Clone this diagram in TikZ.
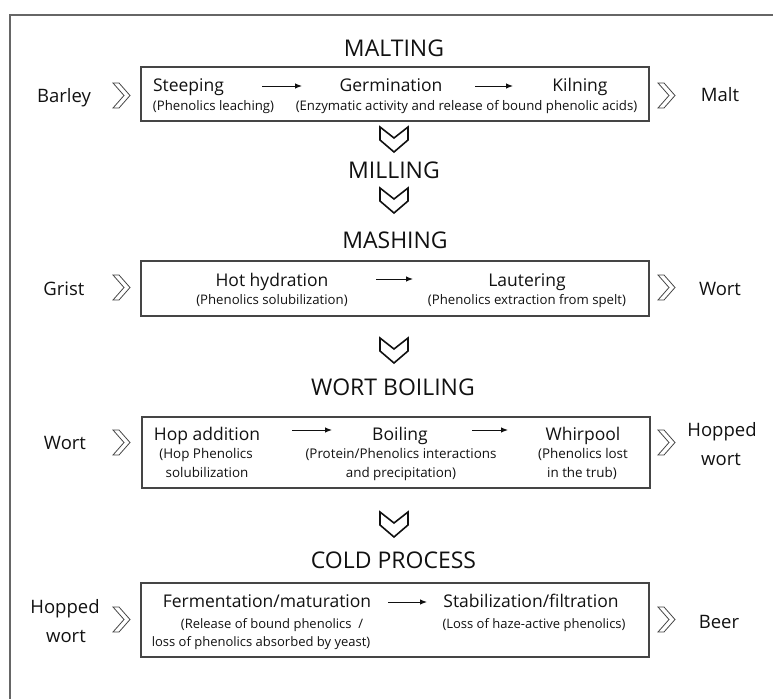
\documentclass[tikz,border=0pt]{standalone}
\usepackage{fontspec}
\setmainfont{Open Sans}
\usetikzlibrary{arrows.meta}
\definecolor{boxgray}{HTML}{454545}
\definecolor{framegray}{HTML}{666666}
\definecolor{ink}{HTML}{111111}
\tikzset{
  every node/.style={text=ink, inner sep=0pt},
  titletext/.style={font=\fontsize{23}{28}\selectfont, anchor=base},
  iotext/.style={font=\fontsize{18.5}{22}\selectfont, anchor=base},
  steptext/.style={font=\fontsize{17.5}{21}\selectfont, anchor=base},
  subtext/.style={font=\fontsize{13.2}{16}\selectfont, anchor=base},
  subtextb/.style={font=\fontsize{13.4}{16}\selectfont, anchor=base},
  subtextc/.style={font=\fontsize{13}{16}\selectfont, anchor=base},
  procbox/.style={draw=boxgray, line width=1.2pt, minimum width=508pt},
  flow/.style={-{Latex[length=7pt,width=5.5pt]}, line width=1pt, draw=ink},
  pics/chevdown/.style={code={
    \draw[line width=1.6pt, draw=ink, line join=miter]
      (-14,0) -- (0,11) -- (14,0) -- (14,13) -- (0,25) -- (-14,13) -- cycle;}},
  pics/chevright/.style={code={
    \draw[line width=0.8pt, draw=boxgray, line join=miter]
      (0,0) -- (6,0) -- (17,12.5) -- (6,25) -- (0,25) -- (11,12.5) -- cycle;}}
}
\begin{document}
\begin{tikzpicture}[x=1pt,y=-1pt]
\useasboundingbox (0,0) rectangle (774,699);
% outer frame (cropped)
\draw[framegray, line width=1.5pt] (10,699) -- (10,15) -- (773,15);

% ---------- MALTING ----------
\node[titletext] (tmalt) at (394,56) {MALTING};
\node[procbox, minimum height=54pt] (bmalt) at (395,94) {};
\node[iotext] (barley) at (64,102) {Barley};
\node[iotext] (malt) at (720,101) {Malt};
\pic at (113,83) {chevright};
\pic at (658,83) {chevright};
\node[steptext] (steep) at (188.5,91) {Steeping};
\node[subtext] (steepsub) at (213.5,110) {(Phenolics leaching)};
\node[steptext] (germ) at (391,91) {Germination};
\node[steptext] (kiln) at (580,91) {Kilning};
\node[subtext] (germsub) at (466.5,110) {(Enzymatic activity and release of bound phenolic acids)};
\coordinate (a1s) at (262,86); \coordinate (a1e) at (302,86);
\coordinate (a2s) at (475,86); \coordinate (a2e) at (513,86);
\draw[flow] (a1s) -- (a1e);
\draw[flow] (a2s) -- (a2e);

\pic at (394,127) {chevdown};
% ---------- MILLING ----------
\node[titletext] (tmill) at (394,178) {MILLING};
\pic at (394,188) {chevdown};

% ---------- MASHING ----------
\node[titletext] (tmash) at (395,248) {MASHING};
\node[procbox, minimum height=55pt] (bmash) at (395,288.5) {};
\node[iotext] (grist) at (64,295) {Grist};
\node[iotext] (wort1) at (720,295) {Wort};
\pic at (113,275) {chevright};
\pic at (658,275) {chevright};
\node[steptext] (hot) at (272,286) {Hot hydration};
\node[subtext] (hotsub) at (272,304) {(Phenolics solubilization)};
\node[steptext] (laut) at (527,286) {Lautering};
\node[subtext] (lautsub) at (527,304) {(Phenolics extraction from spelt)};
\coordinate (a3s) at (376,279); \coordinate (a3e) at (413,279);
\draw[flow] (a3s) -- (a3e);

\pic at (394,338) {chevdown};
% ---------- WORT BOILING ----------
\node[titletext] (tboil) at (393,395) {WORT BOILING};
\node[procbox, minimum height=71pt] (bboil) at (396,452.5) {};
\node[iotext] (wort2) at (65,449) {Wort};
\node[iotext] (hop1) at (722,436) {Hopped};
\node[iotext] (hop1b) at (721,465) {wort};
\pic at (113,430) {chevright};
\pic at (658,430) {chevright};
\node[steptext] (hopadd) at (207,440) {Hop addition};
\node[subtextb] (hopsub1) at (206,458) {(Hop Phenolics};
\node[subtextb] (hopsub2) at (207,477) {solubilization};
\node[steptext] (boil) at (400,440) {Boiling};
\node[subtextb] (boilsub1) at (401,458) {(Protein/Phenolics interactions};
\node[subtextb] (boilsub2) at (401,477) {and precipitation)};
\node[steptext] (whirl) at (583,440) {Whirpool};
\node[subtextb] (whirlsub1) at (583,458) {(Phenolics lost};
\node[subtextb] (whirlsub2) at (582,477) {in the trub)};
\coordinate (a4s) at (292,430); \coordinate (a4e) at (332,430);
\coordinate (a5s) at (472,430); \coordinate (a5e) at (508,430);
\draw[flow] (a4s) -- (a4e);
\draw[flow] (a5s) -- (a5e);

\pic at (394,512) {chevdown};
% ---------- COLD PROCESS ----------
\node[titletext] (tcold) at (393.5,568) {COLD PROCESS};
\node[procbox, minimum height=74pt] (bcold) at (395,620) {};
\node[iotext] (hop2) at (65,613) {Hopped};
\node[iotext] (hop2b) at (66,642) {wort};
\node[iotext] (beer) at (719,628) {Beer};
\pic at (113,607) {chevright};
\pic at (658,607) {chevright};
\node[steptext] (ferm) at (267,607) {Fermentation/maturation};
\node[subtextc] (fermsub1) at (272,628) {(Release of bound phenolics\ \ /};
\node[subtextc] (fermsub2) at (261,646) {loss of phenolics absorbed by yeast)};
\node[steptext] (stab) at (531,607) {Stabilization/filtration};
\node[subtextc] (stabsub) at (534,628) {(Loss of haze-active phenolics)};
\coordinate (a6s) at (388,602); \coordinate (a6e) at (427,602);
\draw[flow] (a6s) -- (a6e);
\end{tikzpicture}
\end{document}
